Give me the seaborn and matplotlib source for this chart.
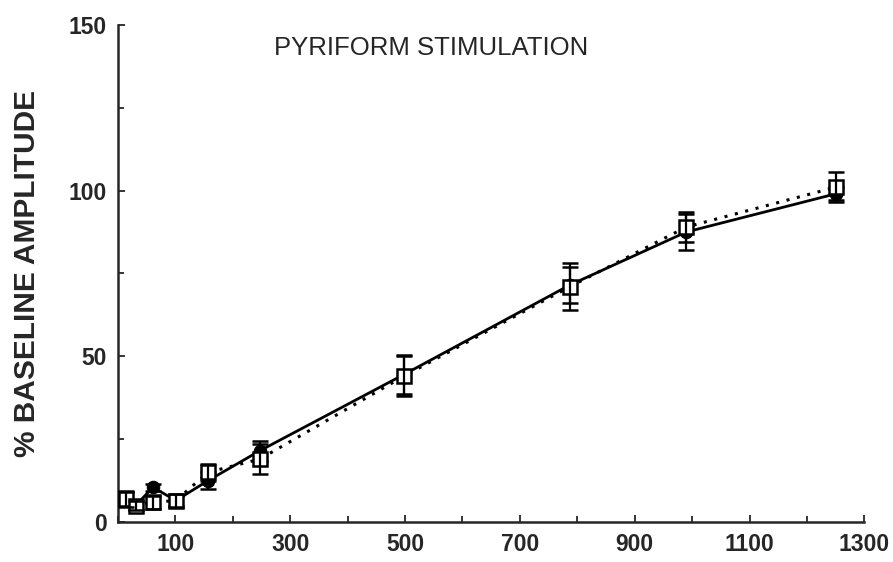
import matplotlib
matplotlib.use("Agg")
import matplotlib.pyplot as plt
import seaborn as sns
import numpy as np
from matplotlib.ticker import MultipleLocator

# Stimulus intensity (x) and response as % of baseline amplitude
intensity = [14, 31, 61, 101, 157, 247, 498, 787, 990, 1250]

open_mean = [7, 5, 6, 6.5, 15, 19, 44, 71, 89, 101]
open_err = [2.5, 1.5, 2, 2, 2.5, 4.5, 6, 7, 4.5, 4.5]

filled_mean = [7, 5, 10.5, 6.5, 12.5, 21.5, 44.5, 71.5, 87.5, 99]
filled_err = [2, 1.5, 1, 1.5, 2.5, 3, 6, 5.5, 5.5, 2]

x_tick_labels = ["100", "300", "500", "700", "900", "1100", "1300"]
y_tick_labels = ["0", "50", "100", "150"]

sns.set_style("ticks")
plt.rcParams["font.family"] = ["Liberation Sans", "DejaVu Sans"]

fig = plt.figure(figsize=(8.93, 5.62), dpi=100)
ax = fig.add_axes([0.132, 0.071, 0.836, 0.885])

# solid line with filled circles
sns.lineplot(x=intensity, y=filled_mean, ax=ax, color="black", lw=2.0,
             marker="o", markersize=9, markerfacecolor="black",
             markeredgecolor="black", zorder=3)
ax.errorbar(intensity, filled_mean, yerr=filled_err, fmt="none",
            ecolor="black", elinewidth=1.6, capsize=6, capthick=1.8, zorder=2)

# dotted line with open squares
sns.lineplot(x=intensity, y=open_mean, ax=ax, color="black", lw=2.2,
             linestyle=(0, (1, 2.5)), marker="s", markersize=10,
             markerfacecolor="white", markeredgecolor="black",
             markeredgewidth=1.8, zorder=4)
ax.errorbar(intensity, open_mean, yerr=open_err, fmt="none",
            ecolor="black", elinewidth=1.6, capsize=6, capthick=1.8, zorder=5)

ax.set_xlim(0, 1300)
ax.set_ylim(0, 150)
ax.set_xticks([100, 300, 500, 700, 900, 1100, 1300])
ax.set_xticklabels(x_tick_labels)
ax.xaxis.set_minor_locator(MultipleLocator(100))
ax.set_yticks([0, 50, 100, 150])
ax.set_yticklabels(y_tick_labels)
ax.yaxis.set_minor_locator(MultipleLocator(25))

ax.tick_params(axis="both", which="both", direction="in", width=1.3,
               labelsize=16.5)
ax.tick_params(axis="both", which="major", length=5, pad=8)
ax.tick_params(axis="both", which="minor", length=4)
for lbl in ax.get_xticklabels() + ax.get_yticklabels():
    lbl.set_fontweight("bold")

for side in ("top", "right"):
    ax.spines[side].set_visible(False)
for side in ("left", "bottom"):
    ax.spines[side].set_linewidth(1.8)

ax.set_ylabel("% BASELINE AMPLITUDE", fontsize=21.5, fontweight="bold",
              labelpad=20)
ax.text(545, 143, "PYRIFORM STIMULATION", fontsize=18.5, ha="center",
        va="center")

fig.savefig("out.png", dpi=100, facecolor="white")
